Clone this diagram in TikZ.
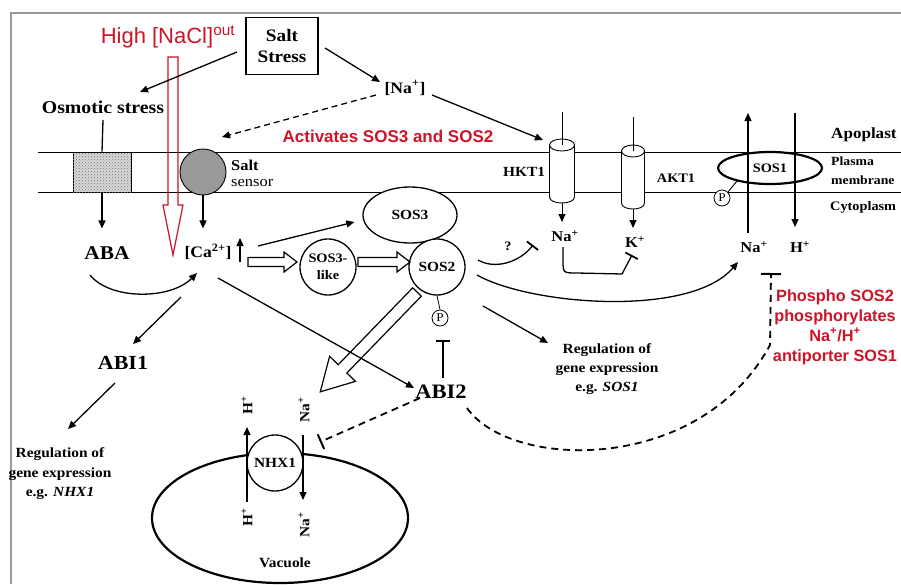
\documentclass[tikz,border=0pt]{standalone}
\usepackage{fontspec}
\setmainfont{Liberation Serif}[FakeStretch=1.1]
\newfontfamily\redsans{Liberation Sans}
\usetikzlibrary{arrows.meta,shapes.geometric,patterns,calc}
\definecolor{myred}{RGB}{205,20,40}
\newcommand\fsz[2]{\fontsize{#1}{#2}\selectfont}
\tikzset{
  lab/.style={inner sep=0pt, font=\bfseries\fsz{15}{18}},
  arr/.style={line width=1.3pt, -{Triangle[length=8pt,width=7pt]}},
  inh/.style={line width=1.3pt, -{Bar[width=14pt,line width=1.8pt]}},
  dsh/.style={line width=1.8pt, dash pattern=on 7pt off 5pt},
  redlab/.style={text=myred, inner sep=0pt, font=\redsans\bfseries\fsz{17}{20}},
  pcirc/.style={circle, draw, line width=0.8pt, minimum size=16pt, inner sep=0pt, font=\fsz{12}{12}, fill=white},
  hollow/.style={line width=1.2pt, line join=miter},
  memb/.style={line width=0.9pt},
  cylbody/.style={fill=white, line width=0.9pt},
}
\begin{document}
\begin{tikzpicture}[x=1pt,y=-1pt]
\useasboundingbox (0,0) rectangle (901,584);
\fill[white] (0,0) rectangle (901,584);
% frame
\draw[black!40, line width=1.3pt] (11,584) -- (11,13) -- (901,13);
% membrane
\draw[memb] (38,152) -- (901,152) (38,192) -- (901,192);

% ---------- nodes ----------
\node[draw, line width=1.2pt, minimum width=72pt, minimum height=57pt, inner sep=0pt, align=center, font=\bfseries\fsz{17.5}{21}] (saltstress) at (282,46) {Salt\\Stress};
\node[text=myred, inner sep=0pt, font=\redsans\fsz{22}{22}] (highnacl) at (168,37) {High [NaCl]\textsuperscript{out}};
\node[lab, font=\bfseries\fsz{18}{18}] (osmotic) at (103,107) {Osmotic stress};
\node[lab, font=\bfseries\fsz{16}{16}] (na) at (405,88) {[Na\textsuperscript{+}]};
\node[redlab] (activates) at (388,136) {Activates SOS3 and SOS2};

\node[draw, memb, minimum width=58pt, minimum height=40pt, inner sep=0pt, fill=black!15,
      postaction={pattern=crosshatch dots, pattern color=black!55}] (osmobox) at (102,172) {};
\node[circle, draw, memb, fill=black!40, minimum size=46pt, inner sep=0pt] (sensor) at (203,172) {};
\node[anchor=west, inner sep=0pt, align=left, font=\fsz{15}{16}] (sensorlab) at (231,173) {\textbf{Salt}\\sensor};

\node[lab, font=\bfseries\fsz{19.5}{20}] (aba) at (107,253) {ABA};
\node[lab, font=\bfseries\fsz{16}{16}] (ca) at (208,252) {[Ca\textsuperscript{2+}]};
\node[lab, font=\bfseries\fsz{20}{20}] (abi1) at (123,363) {ABI1};
\node[lab, align=center, font=\bfseries\fsz{14}{19.5}] (reg1) at (60,474) {Regulation of\\gene expression\\e.g. \textit{NHX1}};

\node[ellipse, draw, fill=white, line width=1.3pt, minimum width=94pt, minimum height=56pt, inner sep=0pt, font=\bfseries\fsz{14}{14}] (sos3) at (410,215) {SOS3};
\node[circle, draw, fill=white, line width=1.3pt, minimum size=56pt, inner sep=0pt, align=center, font=\bfseries\fsz{13}{17}] (sos3like) at (328,267) {SOS3-\\like};
\node[circle, draw, fill=white, line width=1.3pt, minimum size=56pt, inner sep=0pt, font=\bfseries\fsz{14}{14}] (sos2) at (437,267) {SOS2};
\node[pcirc] (p1) at (440,318) {P};
\node[lab, font=\bfseries\fsz{20.5}{21}] (abi2) at (441,392) {ABI2};

% cylinders HKT1 / AKT1
\filldraw[cylbody] (549.5,145) -- (549.5,197) .. controls (549.5,205) and (574.5,205) .. (574.5,197) -- (574.5,145) -- cycle;
\filldraw[cylbody] (562,145) ellipse [x radius=12.5pt, y radius=6pt];
\draw[memb] (562,112) -- (562,145);
\coordinate (hkt1top) at (562,145);
\coordinate (hkt1bot) at (562,203);
\filldraw[cylbody] (621.5,151) -- (621.5,203) .. controls (621.5,211) and (644.5,211) .. (644.5,203) -- (644.5,151) -- cycle;
\filldraw[cylbody] (633,151) ellipse [x radius=11.5pt, y radius=6pt];
\draw[memb] (633,117) -- (633,151);
\coordinate (akt1bot) at (633,209);
\node[lab, font=\bfseries\fsz{14}{14}] (hkt1) at (524,172) {HKT1};
\node[lab, font=\bfseries\fsz{13}{13}] (akt1) at (676,178) {AKT1};
\node[lab] (naplus) at (565,236) {Na\textsuperscript{+}};
\node[lab] (kplus) at (635,242) {K\textsuperscript{+}};
\node[lab, font=\bfseries\fsz{13}{13}] (qm) at (508,246) {?};

% SOS1
\node[ellipse, draw, fill=white, line width=2.2pt, minimum width=104pt, minimum height=32pt, inner sep=0pt, font=\bfseries\fsz{13}{13}] (sos1) at (770,168) {SOS1};
\node[pcirc] (p2) at (722,198) {P};
\node[lab] (na2) at (754,247) {Na\textsuperscript{+}};
\node[lab] (h2) at (800,247) {H\textsuperscript{+}};

\node[anchor=west, lab, font=\bfseries\fsz{15.5}{16}] (apo) at (831,135) {Apoplast};
\node[anchor=west, lab, align=left, font=\bfseries\fsz{12.5}{19}] (pm) at (831,171) {Plasma\\membrane};
\node[anchor=west, lab, font=\bfseries\fsz{13}{14}] (cyto) at (830,207) {Cytoplasm};

\node[lab, align=center, font=\bfseries\fsz{14}{19}] (reg2) at (607,369) {Regulation of\\gene expression\\e.g. \textit{SOS1}};
\node[redlab, align=center, font=\redsans\bfseries\fsz{16.3}{20}] (redblock) at (835,327) {Phospho SOS2\\phosphorylates\\Na\textsuperscript{+}/H\textsuperscript{+}\\antiporter SOS1};

% vacuole
\draw[line width=2.2pt] (280,518) ellipse [x radius=128pt, y radius=65pt];
\node[lab, font=\bfseries\fsz{14}{14}] (vac) at (285,563) {Vacuole};
\node[circle, draw, fill=white, line width=1.3pt, minimum size=56pt, inner sep=0pt, font=\bfseries\fsz{14}{14}] (nhx1) at (275,463) {NHX1};
\node[lab, rotate=90, font=\bfseries\fsz{14}{14}] (hup) at (247,405) {H\textsuperscript{+}};
\node[lab, rotate=90, font=\bfseries\fsz{14}{14}] (hdn) at (247,517) {H\textsuperscript{+}};
\node[lab, rotate=90, font=\bfseries\fsz{14}{14}] (naup) at (304,410) {Na\textsuperscript{+}};
\node[lab, rotate=90, font=\bfseries\fsz{14}{14}] (nadn) at (304,525) {Na\textsuperscript{+}};

% ---------- hollow arrows ----------
\begin{scope}[shift={(173,57)}, rotate=-90]
\draw[hollow, myred] (0pt,5pt) -- (148pt,5pt) -- (148pt,10pt) -- (198pt,0pt) -- (148pt,-10pt) -- (148pt,-5pt) -- (0pt,-5pt) -- cycle;
\end{scope}
\begin{scope}[shift={(248,262)}]
\draw[hollow] (0pt,4.5pt) -- (36pt,4.5pt) -- (36pt,10pt) -- (49pt,0pt) -- (36pt,-10pt) -- (36pt,-4.5pt) -- (0pt,-4.5pt) -- cycle;
\end{scope}
\begin{scope}[shift={(358,262)}]
\draw[hollow] (0pt,4.5pt) -- (39pt,4.5pt) -- (39pt,10pt) -- (52pt,0pt) -- (39pt,-10pt) -- (39pt,-4.5pt) -- (0pt,-4.5pt) -- cycle;
\end{scope}
\begin{scope}[shift={(417,292)}, rotate=-134.1]
\draw[hollow] (0pt,6pt) -- (107pt,6pt) -- (107pt,18pt) -- (139pt,0pt) -- (107pt,-18pt) -- (107pt,-6pt) -- (0pt,-6pt) -- cycle;
\end{scope}

% ---------- connectors ----------
\draw[arr] ($(saltstress)+(-45,6)$) -- ($(osmotic)+(37,-15)$);
\draw[arr] ($(saltstress)+(43,2)$) -- ($(na)+(-25,-6)$);
\draw[arr, line width=1.3pt, dash pattern=on 6pt off 4pt] ($(na)+(-29,7)$) -- ($(sensor)+(19,-35)$);
\draw[arr] ($(na)+(27,7)$) -- ($(hkt1top)+(-19,-5)$);
\draw[line width=1.3pt] ($(osmotic)+(0,13)$) -- (osmobox.north);
\draw[arr] (osmobox.south) -- ($(osmobox.south)+(0,36)$);
\draw[arr] (sensor.south) -- ($(sensor.south)+(0,33)$);
\draw[arr] ($(ca)+(32,10)$) -- ($(ca)+(32,-14)$);
\draw[arr] ($(aba)+(-17,22)$) .. controls ($(aba)+(3,47)$) and ($(ca)+(-38,48)$) .. ($(ca)+(-11,21)$);
\draw[arr] ($(ca)+(-27,45)$) -- ($(abi1)+(10,-19)$);
\draw[arr] ($(abi1)+(-8,20)$) -- ($(reg1)+(8,-45)$);
\draw[arr] ($(ca)+(50,-6)$) -- ($(sos3.west)+(-8,7)$);
\draw[arr] ($(ca)+(10,26)$) -- ($(abi2)+(-27,-4)$);
\draw[line width=0.8pt] (sos2.south) -- (p1.north);
\draw[inh] ($(abi2)+(2,-14)$) -- ($(p1)+(3,22)$);
\draw[inh] ($(sos2)+(41,-7)$) .. controls ($(sos2)+(58,3)$) and ($(sos2)+(83,-5)$) .. ($(sos2)+(96,-22)$);
\draw[arr] ($(sos2)+(40,8)$) .. controls ($(sos2)+(93,38)$) and ($(sos2)+(253,51)$) .. ($(na2)+(-16,15)$);
\draw[arr] ($(sos2)+(46,39)$) -- ($(reg2)+(-59,-26)$);
\draw[arr, memb] (hkt1bot) -- ($(hkt1bot)+(0,19)$);
\draw[arr, memb] (akt1bot) -- ($(akt1bot)+(0,19)$);
\draw[inh] ($(naplus)+(-2,11)$) -- ($(naplus)+(-2,24)$) .. controls ($(naplus)+(-2,37)$) .. ($(naplus)+(12,37)$) -- ($(kplus)+(-13,32)$) -- ($(kplus)+(-3,13)$);
\draw[arr] ($(na2)+(-6,-14)$) -- ($(na2)+(-6,-134)$);
\draw[arr] ($(h2)+(-5,-134)$) -- ($(h2)+(-5,-20)$);
\draw[line width=0.9pt] (p2.north east) -- ($(sos1.center)+(-33,13)$);
\draw[dsh, -{Bar[width=20pt,line width=2pt]}] ($(abi2)+(26,16)$) .. controls (510,470) and (700,475) .. (770,345) -- ($(na2)+(17,26)$);
\draw[dsh, -{Bar[width=16pt,line width=2pt]}] ($(abi2)+(-21,6)$) -- ($(nhx1)+(45,-21)$);
\draw[arr] ($(nhx1)+(-28,39)$) -- ($(nhx1)+(-28,-36)$);
\draw[arr] ($(nhx1)+(28,-28)$) -- ($(nhx1)+(28,37)$);
\end{tikzpicture}
\end{document}
